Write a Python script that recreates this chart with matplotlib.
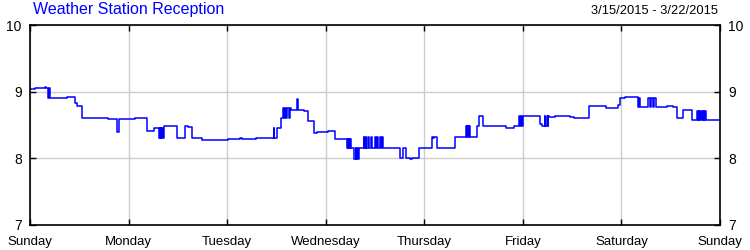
import numpy as np
import matplotlib
matplotlib.use('Agg')
import matplotlib.pyplot as plt

plt.rcParams['font.family'] = ['Liberation Sans', 'DejaVu Sans']

title = 'Weather Station Reception'
date_range = '3/15/2015 - 3/22/2015'
day_labels = ['Sunday', 'Monday', 'Tuesday', 'Wednesday', 'Thursday',
              'Friday', 'Saturday', 'Sunday']
y_ticks = [7, 8, 9, 10]

# hours since Sunday 00:00, reception value (step series)
hours = [0.0, 1.2, 3.6, 3.9, 4.3, 4.6, 4.9, 5.2, 9.1, 11.0, 11.4, 12.7,
         19.0, 21.3, 21.6, 23.5, 25.6, 28.4, 28.8, 29.2, 30.3,
         31.4, 31.6, 31.7, 31.9, 32.0, 32.2, 32.3, 32.6, 35.9, 37.7, 38.5,
         39.4, 41.8, 48.1, 51.1, 51.7, 55.0, 59.3, 59.5, 60.1, 61.2,
         61.6, 61.9, 62.1, 62.4, 62.6, 63.0, 63.2, 63.5, 65.0, 65.2,
         66.6, 67.7, 69.1, 69.9, 72.5, 74.3,
         77.2, 77.4, 77.5, 77.7, 77.8, 78.0, 78.2,
         79.0, 79.3, 79.4, 79.7, 79.8, 80.0,
         81.2, 81.4, 81.7, 81.9, 82.3, 82.5, 83.1, 83.3, 84.1, 84.3,
         84.6, 84.8, 85.3, 85.5, 85.8, 86.0,
         90.1, 90.9, 91.5, 92.5, 93.0, 94.7, 97.8, 98.1, 98.3, 99.2,
         103.6, 104.7, 106.2, 106.4, 106.5, 106.8, 106.9, 107.1,
         108.8, 109.4, 110.4, 115.9, 117.1, 117.9,
         119.1, 119.3, 119.6, 119.8, 120.0,
         124.2, 124.6, 125.3, 125.5, 125.8, 126.0, 126.2, 126.4,
         127.9, 131.5, 132.5, 133.7, 134.0, 136.2, 140.2, 141.9,
         143.2, 143.7, 144.9, 148.1, 148.2, 148.6, 150.5, 150.9, 151.2,
         151.6, 152.0, 152.4, 155.0, 156.6, 157.6, 159.1, 161.1,
         162.4, 162.6, 162.8, 163.0, 163.2, 163.4, 163.6, 163.8, 164.0,
         164.2, 164.4, 164.6, 164.8, 168.0]
values = [9.04, 9.06, 9.07, 9.06, 8.90, 9.06, 8.90, 8.905, 8.92, 8.83, 8.79, 8.60,
          8.585, 8.39, 8.585, 8.59, 8.60, 8.415, 8.405, 8.415, 8.45,
          8.30, 8.45, 8.30, 8.45, 8.30, 8.45, 8.30, 8.485, 8.30, 8.485, 8.47,
          8.30, 8.275, 8.29, 8.30, 8.29, 8.305, 8.45, 8.305, 8.45, 8.60,
          8.75, 8.60, 8.75, 8.60, 8.75, 8.60, 8.75, 8.725, 8.89, 8.725,
          8.71, 8.565, 8.375, 8.39, 8.41, 8.285,
          8.15, 8.285, 8.15, 8.285, 8.15, 8.285, 8.15,
          7.985, 8.15, 7.985, 8.15, 7.985, 8.15,
          8.315, 8.15, 8.315, 8.15, 8.315, 8.15, 8.315, 8.15, 8.315, 8.15,
          8.315, 8.15, 8.315, 8.15, 8.315, 8.15,
          8.00, 8.15, 8.00, 7.985, 8.00, 8.15, 8.325, 8.30, 8.325, 8.15,
          8.315, 8.325, 8.485, 8.315, 8.485, 8.315, 8.485, 8.315,
          8.485, 8.635, 8.49, 8.45, 8.46, 8.485,
          8.635, 8.485, 8.635, 8.485, 8.635,
          8.52, 8.485, 8.635, 8.485, 8.635, 8.485, 8.635, 8.615,
          8.635, 8.615, 8.60, 8.61, 8.60, 8.785, 8.75, 8.76,
          8.80, 8.90, 8.92, 8.775, 8.90, 8.775, 8.90, 8.775, 8.90,
          8.775, 8.90, 8.775, 8.785, 8.775, 8.60, 8.725, 8.575,
          8.715, 8.575, 8.715, 8.575, 8.715, 8.575, 8.715, 8.575, 8.715,
          8.575, 8.715, 8.575, 8.575, 8.575]

fig = plt.figure(figsize=(7.5, 2.5), dpi=100)
ax = fig.add_axes((30 / 750, 25 / 250, 690 / 750, 200 / 250))

ax.plot(hours, values, drawstyle='steps-post', color='#0000ff', lw=1.1)

ax.set_xlim(0, 168)
ax.set_ylim(7, 10)
ax.set_xticks(np.arange(0, 169, 24))
ax.set_xticklabels(day_labels)
ax.set_yticks(y_ticks)
ax.grid(True, color='#cccccc', lw=1)
ax.set_axisbelow(True)

ax.tick_params(direction='in', length=4, width=1, color='black',
               labelsize=9.5, top=True, right=True, labelright=True)
ax.tick_params(axis='x', pad=8)
ax.tick_params(axis='y', pad=6, labelsize=10)
for s in ax.spines.values():
    s.set_linewidth(1.2)
    s.set_color('black')

fig.text(33 / 750, 1 - 2 / 250, title, color='#0000ff', fontsize=11.5,
         ha='left', va='top')
fig.text(718 / 750, 1 - 5 / 250, date_range, color='black', fontsize=9.3,
         ha='right', va='top')

fig.savefig('out.png', dpi=100)
